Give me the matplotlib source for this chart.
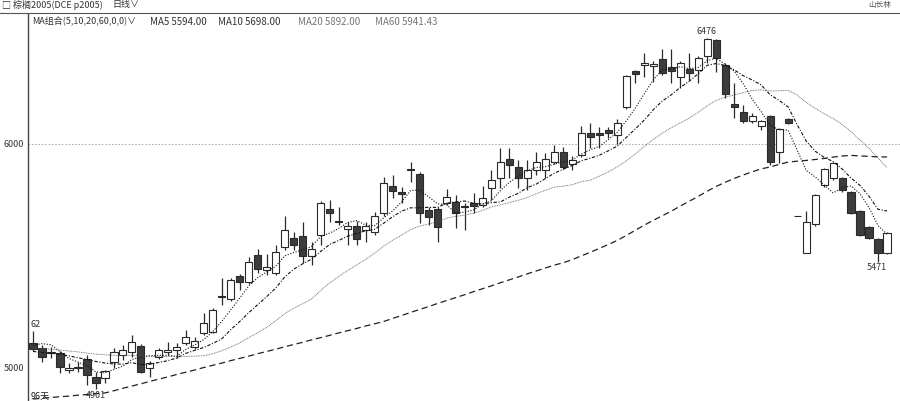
import matplotlib
matplotlib.use("Agg")
import matplotlib.pyplot as plt
from matplotlib.lines import Line2D
import numpy as np
import pandas as pd

plt.rcParams['font.family'] = ['Noto Sans CJK SC', 'DejaVu Sans']
plt.rcParams['font.size'] = 7

# daily OHLC, palm oil p2005, 96 sessions
opens = [5108, 5086, 5064, 5064, 4987, 4995, 5037, 4956, 4952, 5023,
         5055, 5068, 5095, 4996, 5046, 5068, 5077, 5108, 5090, 5153,
         5158, 5314, 5305, 5409, 5382, 5503, 5435, 5422, 5538, 5579,
         5588, 5498, 5592, 5709, 5655, 5619, 5633, 5615, 5606, 5691,
         5812, 5785, 5883, 5865, 5704, 5709, 5736, 5740, 5722, 5736,
         5727, 5803, 5848, 5933, 5897, 5848, 5883, 5883, 5919, 5964,
         5910, 5951, 6049, 6049, 6063, 6040, 6166, 6327, 6354, 6349,
         6381, 6345, 6300, 6336, 6331, 6394, 6466, 6354, 6179, 6143,
         6103, 6081, 6125, 5964, 6112, 5677, 5512, 5641, 5816, 5848,
         5848, 5785, 5700, 5628, 5574, 5512]
highs = [5162, 5099, 5090, 5072, 5019, 5023, 5055, 4978, 4985, 5086,
         5099, 5144, 5104, 5028, 5086, 5113, 5108, 5167, 5135, 5243,
         5265, 5400, 5400, 5418, 5494, 5529, 5507, 5547, 5677, 5606,
         5650, 5561, 5745, 5749, 5718, 5650, 5655, 5650, 5695, 5852,
         5861, 5807, 5919, 5874, 5718, 5718, 5798, 5771, 5736, 5780,
         5812, 5883, 5982, 5982, 5928, 5928, 5964, 5960, 5995, 5986,
         5946, 6080, 6094, 6076, 6076, 6112, 6309, 6331, 6408, 6372,
         6425, 6425, 6372, 6408, 6394, 6476, 6470, 6363, 6273, 6175,
         6139, 6107, 6130, 6072, 6116, 5677, 5700, 5776, 5892, 5919,
         5852, 5789, 5704, 5633, 5579, 5606]
lows = [5072, 5023, 5041, 4974, 4974, 4978, 4920, 4901, 4929, 4996,
        5032, 5046, 4974, 4956, 5037, 5055, 5041, 5099, 5081, 5144,
        5153, 5279, 5296, 5346, 5373, 5422, 5413, 5413, 5525, 5525,
        5467, 5458, 5547, 5650, 5637, 5547, 5547, 5561, 5592, 5677,
        5758, 5736, 5830, 5646, 5637, 5561, 5727, 5624, 5615, 5691,
        5718, 5749, 5803, 5848, 5803, 5794, 5861, 5848, 5910, 5888,
        5883, 5942, 5982, 5982, 6027, 6000, 6157, 6273, 6300, 6278,
        6309, 6273, 6251, 6287, 6273, 6363, 6322, 6206, 6116, 6094,
        6094, 6063, 5906, 5915, 6089, 5677, 5512, 5633, 5807, 5839,
        5785, 5686, 5588, 5574, 5471, 5507]
closes = [5081, 5046, 5068, 5001, 4996, 5000, 4965, 4929, 4983, 5068,
          5077, 5113, 4978, 5019, 5077, 5077, 5090, 5135, 5117, 5198,
          5256, 5319, 5391, 5382, 5471, 5440, 5449, 5516, 5615, 5547,
          5498, 5529, 5736, 5691, 5650, 5633, 5574, 5633, 5677, 5825,
          5789, 5776, 5888, 5691, 5673, 5628, 5762, 5691, 5718, 5722,
          5758, 5839, 5919, 5906, 5848, 5883, 5919, 5933, 5964, 5897,
          5928, 6049, 6031, 6040, 6049, 6094, 6305, 6314, 6363, 6358,
          6318, 6327, 6363, 6318, 6385, 6470, 6385, 6224, 6166, 6103,
          6125, 6103, 5919, 6067, 6094, 5677, 5650, 5771, 5888, 5915,
          5794, 5691, 5592, 5579, 5512, 5601]

# moving-average values before the window fills
ma5_head = [5098, 5105, 5100, 5070]
ma10_head = [5070, 5066, 5062, 5057, 5050, 5042, 5034, 5025, 5018]
ma20_head = [5085, 5083, 5080, 5076, 5072, 5068, 5063, 5058, 5055, 5053,
             5052, 5052, 5050, 5048, 5047, 5047, 5047, 5048, 5049]
ma60_head = [4857, 4860, 4864, 4867, 4870, 4874, 4877, 4881, 4884, 4894,
             4905, 4915, 4925, 4936, 4946, 4956, 4967, 4977, 4987, 4998,
             5008, 5018, 5029, 5039, 5049, 5060, 5070, 5080, 5091, 5101,
             5111, 5122, 5132, 5142, 5153, 5163, 5173, 5184, 5194, 5204,
             5218, 5231, 5245, 5258, 5271, 5285, 5298, 5311, 5324, 5338,
             5351, 5364, 5378, 5391, 5404, 5418, 5431, 5444, 5457]

DARK = '#3c3c3c'
EDGE = '#2a2a2a'


def moving_average(values, n, head):
    ma = pd.Series(values, dtype=float).rolling(n).mean().to_numpy()
    ma[:len(head)] = head
    return ma


fig = plt.figure(figsize=(9, 4.01), dpi=100)
ax = fig.add_axes([28 / 900, 0, 872 / 900, 387 / 401])

o = np.array(opens)
h = np.array(highs)
l = np.array(lows)
c = np.array(closes)
x = np.arange(len(c))
up = c >= o

ax.vlines(x, l, h, color=EDGE, lw=0.9, zorder=2)
ax.bar(x[up], (c - o)[up], bottom=o[up], width=0.8, facecolor='white',
       edgecolor=EDGE, linewidth=0.8, zorder=3)
ax.bar(x[~up], (o - c)[~up], bottom=c[~up], width=0.8, facecolor=DARK,
       edgecolor=EDGE, linewidth=0.8, zorder=3)

ma5 = moving_average(closes, 5, ma5_head)
ma10 = moving_average(closes, 10, ma10_head)
ma20 = moving_average(closes, 20, ma20_head)
ma60 = moving_average(closes, 60, ma60_head)
ax.plot(x, ma5, color='#111111', lw=0.8, ls=(0, (1, 1.5)), zorder=4)
ax.plot(x, ma10, color='#111111', lw=0.8, ls=(0, (3, 1.5, 1, 1.5)), zorder=4)
ax.plot(x, ma20, color='#555555', lw=0.6, ls=(0, (1, 1)), zorder=4)
ax.plot(x, ma60, color='#222222', lw=0.9, ls=(0, (5, 3)), zorder=4)

ax.axhline(6000, color='#a0a0a0', lw=0.6, ls=(0, (2, 2)), zorder=1)

ax.set_xlim(-0.556, 96.44)
ax.set_ylim(4848, 6582)
ax.set_xticks([])
ax.set_yticks([5000, 6000], ["5000", "6000"])
ax.tick_params(axis='y', length=0, pad=3, labelsize=6.5, labelcolor='#333333')
for side in ('top', 'right', 'bottom'):
    ax.spines[side].set_visible(False)
ax.spines['left'].set_color('#444444')
ax.spines['left'].set_linewidth(1.0)

# price annotations
ax.text(0.3, 5189, "62", ha='center', va='center', fontsize=6.5, color='#333333')
ax.text(7, 4871, "4901", ha='center', va='center', fontsize=6.5, color='#333333')
ax.text(74.9, 6505, "6476", ha='center', va='center', fontsize=6.5, color='#333333')
ax.text(93.8, 5444, "5471", ha='center', va='center', fontsize=6.5, color='#333333')
ax.text(-0.25, 4871, "96天", ha='left', va='center', fontsize=6.5, color='#222222')

# header rows
fig.add_artist(Line2D([0, 1], [1 - 13 / 401, 1 - 13 / 401], color='#555555', lw=0.8))
fig.text(2 / 900, 1 - 5 / 401, "□ 棕榈2005(DCE p2005)", ha='left', va='center',
         fontsize=6.5, color='#333333')
fig.text(112 / 900, 1 - 5 / 401, "日线∨", ha='left', va='center', fontsize=6.5, color='#333333')
fig.text(868 / 900, 1 - 5 / 401, "山长林", ha='left', va='center', fontsize=5.5, color='#555555')
row2 = 1 - 22 / 401
fig.text(32 / 900, row2, "MA组合(5,10,20,60,0,0)∨", ha='left', va='center',
         fontsize=6.5, color='#333333')
fig.text(150 / 900, row2, "MA5 5594.00", ha='left', va='center', fontsize=7, color='#333333')
fig.text(218 / 900, row2, "MA10 5698.00", ha='left', va='center', fontsize=7, color='#333333')
fig.text(298 / 900, row2, "MA20 5892.00", ha='left', va='center', fontsize=7, color='#777777')
fig.text(375 / 900, row2, "MA60 5941.43", ha='left', va='center', fontsize=7, color='#777777')

fig.savefig("out.png", dpi=100)
plt.close(fig)
